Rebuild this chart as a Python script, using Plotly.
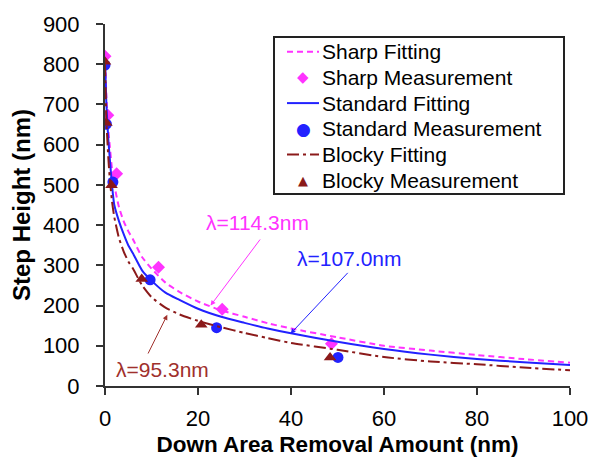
import plotly.graph_objects as go

# Measurements
sharp_x = [0, 0.6, 2.5, 11.5, 25.2, 48.7]
sharp_y = [820, 673, 528, 295, 191, 105]
std_x = [0, 0.3, 1.7, 9.7, 24.0, 50.1]
std_y = [798, 651, 507, 264, 145, 71]
blocky_x = [0, 0.3, 1.4, 7.9, 20.7, 48.4]
blocky_y = [806, 654, 499, 266, 152, 71]

# Fitting curves
fit_x = [0, 0.3, 0.7, 1, 1.5, 2, 3, 4, 5, 6, 8, 10, 13, 16, 20, 25, 30, 35, 40, 50, 60, 70, 80, 90, 100]
sharp_fit = [830, 720, 640, 600, 540, 500, 445, 410, 385, 365, 320, 292, 257, 234, 210, 188, 172, 156, 143, 121, 100, 88, 77, 67, 58]
std_fit = [810, 700, 615, 570, 500, 450, 410, 378, 350, 330, 287, 262, 232, 214, 192, 172, 157, 143, 131, 110, 92, 78, 67, 59, 52]
blocky_fit = [800, 660, 570, 520, 460, 420, 368, 335, 310, 292, 250, 221, 195, 178, 162, 146, 132, 119, 107, 90, 72, 61, 54, 46, 39]

x_ticks = [0, 20, 40, 60, 80, 100]
y_ticks = [0, 100, 200, 300, 400, 500, 600, 700, 800, 900]

series_names = ["Sharp Fitting", "Sharp Measurement", "Standard Fitting",
                "Standard Measurement", "Blocky Fitting", "Blocky Measurement"]

MAG = "#ff33ff"
BLU = "#2222ff"
RED = "#8b1a1a"
RED_TXT = "#a0302c"
FONT = "Liberation Sans, Arial, sans-serif"
DASH_SHARP = "6px,4px"
DASH_BLOCKY = "12px,4px,3px,4px"

fig = go.Figure()
fig.add_trace(go.Scatter(x=fit_x, y=sharp_fit, mode="lines", name=series_names[0],
                         line=dict(color=MAG, width=2, dash=DASH_SHARP, shape="spline", smoothing=0.6)))
fig.add_trace(go.Scatter(x=sharp_x, y=sharp_y, mode="markers", name=series_names[1],
                         marker=dict(symbol="diamond", size=10, color=MAG)))
fig.add_trace(go.Scatter(x=fit_x, y=std_fit, mode="lines", name=series_names[2],
                         line=dict(color=BLU, width=2, shape="spline", smoothing=0.6)))
fig.add_trace(go.Scatter(x=std_x, y=std_y, mode="markers", name=series_names[3],
                         marker=dict(symbol="circle", size=11, color=BLU)))
fig.add_trace(go.Scatter(x=fit_x, y=blocky_fit, mode="lines", name=series_names[4],
                         line=dict(color=RED, width=2, dash=DASH_BLOCKY, shape="spline", smoothing=0.6)))
fig.add_trace(go.Scatter(x=blocky_x, y=blocky_y, mode="markers", name=series_names[5],
                         marker=dict(symbol="triangle-up", size=11, color=RED)))

annots = [
    dict(text="λ=114.3nm", color=MAG, tx=32.7, ty=407, ax=33.6, ay=368, hx=22.7, hy=200),
    dict(text="λ=107.0nm", color=BLU, tx=52.6, ty=318, ax=52.5, ay=285, hx=39.9, hy=130),
    dict(text="λ=95.3nm", color=RED_TXT, tx=12.3, ty=41.5, ax=9.1, ay=77, hx=13.4, hy=177),
]
for a in annots:
    fig.add_annotation(x=a["tx"], y=a["ty"], text=a["text"], showarrow=False,
                       font=dict(color=a["color"], size=21, family=FONT))
    fig.add_annotation(x=a["hx"], y=a["hy"], ax=a["ax"], ay=a["ay"], axref="x", ayref="y",
                       text="", showarrow=True, arrowhead=2, arrowsize=1, arrowwidth=1,
                       arrowcolor=a["color"])

# ---- legend box (drawn by hand to match the original's compact spacing) ----
L, T, W, H = 105, 24, 465, 362   # plot area in pixels


def px(x):
    return (x - L) / W


def py(y):
    return (T + H - y) / H


fig.add_shape(type="rect", xref="paper", yref="paper",
              x0=px(274), x1=px(564), y0=py(194), y1=py(37),
              line=dict(color="#222222", width=2), fillcolor="white", layer="above")

legend_styles = [
    ("line", MAG, DASH_SHARP, None),
    ("glyph", MAG, None, ("◆", 15)),
    ("line", BLU, "solid", None),
    ("glyph", BLU, None, ("●", 17)),
    ("line", RED, DASH_BLOCKY, None),
    ("glyph", RED, None, ("▲", 13)),
]
for i, (name, (kind, col, dash, glyph)) in enumerate(zip(series_names, legend_styles)):
    yc = 51.7 + i * 25.7
    if kind == "line":
        fig.add_shape(type="line", xref="paper", yref="paper",
                      x0=px(287), x1=px(319), y0=py(yc), y1=py(yc),
                      line=dict(color=col, width=2, dash=dash), layer="above")
    else:
        fig.add_annotation(xref="paper", yref="paper", x=px(303), y=py(yc), text=glyph[0],
                           showarrow=False, xanchor="center", yanchor="middle",
                           font=dict(color=col, size=glyph[1], family="DejaVu Sans"))
    fig.add_annotation(xref="paper", yref="paper", x=px(320), y=py(yc), text=name,
                       showarrow=False, xanchor="left", yanchor="middle",
                       font=dict(color="black", size=21, family=FONT))

fig.update_layout(
    width=589, height=457,
    margin=dict(l=105, r=19, t=24, b=71),
    paper_bgcolor="white", plot_bgcolor="white",
    font=dict(family=FONT, size=22, color="black"),
    showlegend=False,
    xaxis=dict(range=[0, 100], tickvals=x_ticks, showgrid=False, zeroline=False,
               showline=True, linecolor="#333333", linewidth=2, automargin=False,
               ticks="outside", ticklen=7, tickcolor="#333333", tickwidth=2,
               ticklabelstandoff=5,
               title=dict(text="<b>Down Area Removal Amount (nm)</b>", font=dict(size=22.5), standoff=12)),
    yaxis=dict(range=[0, 900], tickvals=y_ticks, showgrid=False, zeroline=False,
               showline=True, linecolor="#333333", linewidth=2, automargin=False,
               ticks="outside", ticklen=7, tickcolor="#333333", tickwidth=2,
               ticklabelstandoff=12,
               title=dict(text="<b>Step Height (nm)</b>", font=dict(size=24), standoff=5)),
)

fig.write_html("out.html", config={"displayModeBar": False},
               post_script="document.body.style.margin='0';document.body.style.padding='0';")
